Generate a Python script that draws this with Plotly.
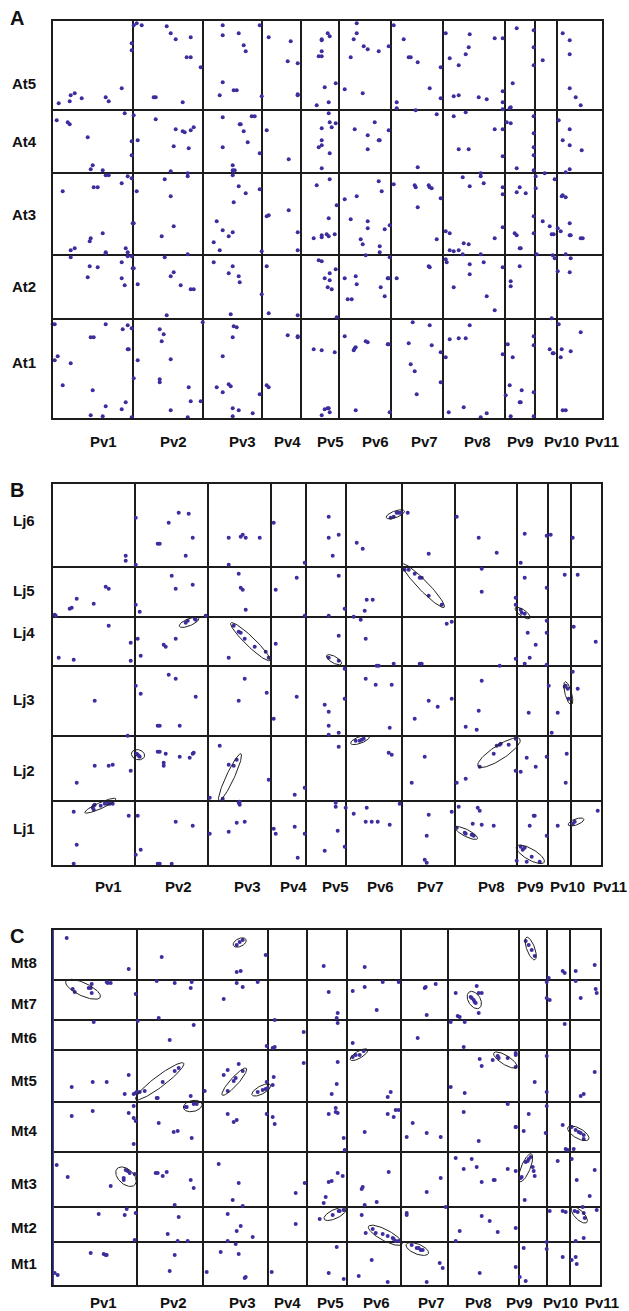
import numpy as np
import plotly.graph_objects as go

W, H = 629, 1311

# ---------------- data: chromosome lengths (arbitrary genome units) ----------------
PV = ["Pv1", "Pv2", "Pv3", "Pv4", "Pv5", "Pv6", "Pv7", "Pv8", "Pv9", "Pv10", "Pv11"]
A_rows = ["At1", "At2", "At3", "At4", "At5"]
B_rows = ["Lj1", "Lj2", "Lj3", "Lj4", "Lj5", "Lj6"]
C_rows = ["Mt1", "Mt2", "Mt3", "Mt4", "Mt5", "Mt6", "Mt7", "Mt8"]

A_pv_len = [80, 70, 59, 39, 38.3, 51.7, 52, 62, 30.3, 21.7, 45]
A_row_len = [99.3, 64, 81.7, 63.3, 89]
B_pv_len = [82.3, 72.7, 63, 35.3, 40.3, 55.4, 53, 62.6, 31, 22.4, 30.3]
B_row_len = [63.4, 65.3, 69.7, 49.3, 49.7, 83]
C_pv_len = [84.6, 65.4, 65.3, 38.7, 40, 54.3, 47, 70.7, 28.6, 22.4, 30.6]
C_row_len = [42.7, 35, 55, 50.6, 51.7, 30, 40, 50]

# ---------------- data: homologous gene pairs (x = Pv position, y = other genome) ----------------
A_pts = [
 (6,315),(17,317),(18,323),(22,325),(29,320),(53,321),(56,317),(69,330),(79,375),(79,368),(81,393),(84,395),(89,393),(114,392),(118,385),(123,379),(138,381),(134,361),(138,361),(148,351),(101,321),(103,321),(130,316),(170,393),(170,383),(186,385),(191,373),(193,367),(207,393),(170,336),(181,328),(184,328),(167,323),(209,322),(216,381),(238,377),(235,357),(245,355),(245,324),(245,323),(269,379),(269,378),(275,385),(277,382),(269,367),(266,362),(269,362),(272,331),(264,313),(276,316),
 (4,298),(15,296),(17,294),(35,281),(40,253),(38,249),(50,248),(72,305),(79,277),(79,263),(81,303),(103,299),(123,289),(130,287),(132,286),(138,288),(141,291),(85,278),(121,272),(136,270),(118,247),(170,301),(199,302),(202,302),(187,294),(188,294),(191,287),(195,276),(170,271),(207,265),(180,253),(180,248),(182,248),(181,247),(214,288),(236,259),(276,305),(277,296),(269,290),(269,278),(269,273),(266,271),(277,265),(269,250),
 (10,227),(41,231),(45,231),(53,243),(56,243),(69,235),(75,242),(79,240),(84,227),(112,239),(118,222),(135,242),(135,245),(180,243),(186,232),(193,225),(207,229),(181,216),(264,233),(277,239),
 (80,195),(81,195),(50,185),(38,180),(37,177),(18,168),(22,170),(53,166),(53,165),(73,170),(75,166),(75,162),(79,162),(121,192),(109,182),(135,164),(164,197),(170,188),(176,182),(180,186),(161,176),(167,168),(214,202),(216,203),(236,208),(245,186),(245,168),(209,167),(276,200),(261,180),(269,183),(269,181),(274,184),(276,182),
 (18,161),(37,152),(45,151),(35,141),(69,156),(69,140),(72,133),(80,150),(81,150),(85,134),(112,161),(121,146),(118,142),(128,133),(138,129),(141,129),(114,103),(161,156),(180,152),(176,145),(186,142),(187,136),(178,104),(214,152),(209,124),(216,105),(245,103),(266,158),(269,157),(272,140),(277,145),(277,138),(275,131),
 (0,94),(2,94),(53,94),(75,93),(70,89),(79,90),(38,81),(41,81),(75,69),(76,69),(5,62),(2,58),(18,55),(10,33),(40,28),(53,12),(69,9),(73,16),(38,3),(50,2),(79,1),(107,89),(111,84),(109,77),(85,58),(118,59),(81,40),(107,39),(107,36),(136,31),(138,17),(148,17),(118,8),(135,1),(150,96),(181,92),(184,91),(180,81),(170,62),(164,31),(176,34),(178,32),(170,26),(207,24),(180,10),(186,8),(200,5),(180,2),(214,33),(216,31),(235,83),(245,82),(245,81),(261,69),(269,68),(272,9),(275,10),(276,10),(269,3),(277,6),
 (283,335),(304,395),(304,385),(301,379),(311,372),(315,369),(326,367),(298,361),(292,329),(310,325),(336,372),(341,393),(351,379),(356,361),(358,361),(365,356),(388,351),(377,330),(388,320),(344,316),(344,310),(363,308),(393,385),(417,384),(442,380),(450,380),(416,371),(413,364),(397,360),(406,353),(450,327),(406,323),(401,322),(426,321),(434,319),(450,316),(450,309),(457,310),(458,311),(464,390),(481,388),(481,371),(481,353),(460,335),(490,358),(510,385),(517,378),(517,364),(517,330),(523,321),(528,313),
 (283,295),(279,291),(322,296),(302,289),(315,283),(326,278),(327,278),(315,269),(336,288),(365,251),(384,304),(401,302),(413,306),(442,289),(450,289),(406,269),(416,269),(450,262),(454,296),(458,295),(464,250),(481,302),(481,285),(481,271),(481,263),(481,248),(483,242),(492,245),(502,239),(506,298),(517,289),(510,278),(517,273),(529,268),(517,249),(513,246),
 (284,213),(326,237),(329,227),(304,222),(292,219),(341,234),(362,233),(363,231),(376,233),(377,231),(379,230),(388,220),(365,211),(410,241),(428,245),(428,242),(431,235),(417,232),(450,231),(450,224),(464,226),(467,231),(473,225),(483,230),(510,223),(509,222),(513,221),
 (282,184),(298,199),(315,197),(315,190),(332,189),(308,179),(310,174),(327,172),(327,166),(313,163),(337,193),(384,179),(393,187),(397,185),(442,180),(450,191),(411,175),(416,174),(397,168),(401,167),(406,168),(410,164),(428,164),(462,185),(464,183),(467,170),(468,170),(481,202),(481,185),(484,164),(490,197),(497,192),(499,184),(501,184),(505,190),(508,187),(517,195),(517,183),(518,183),(528,180),(530,180),(513,164),(500,163),
 (279,129),(283,149),(284,101),(292,140),(303,142),(304,134),(295,119),(299,119),(328,131),(332,122),(335,140),(336,140),(337,161),(344,140),(376,152),(377,151),(393,159),(394,156),(417,154),(431,156),(417,144),(401,131),(434,122),(442,108),(450,151),(458,137),(458,132),(467,152),(499,100),(502,160),(505,147),(518,160),(517,146),
 (282,66),(292,82),(301,68),(302,70),(303,71),(313,77),(315,76),(335,74),(336,74),(303,8),(337,6),(360,96),(377,93),(356,75),(379,73),(358,54),(362,47),(364,24),(388,66),(388,36),(393,61),(417,93),(397,79),(406,80),(413,80),(450,64),(396,6),(411,11),(434,5),(428,1),(455,74),(460,61),(457,33),(469,28),(453,23),(467,16),(468,16),(481,82),(481,73),(481,26),(458,2),(481,2),(497,69),(500,65),(501,65),(509,69),(508,61),(518,67),(506,94),(528,86),(510,8),(513,8),
]

B_pts = [
 (73,309),(73,304),(83,347),(83,300),(126,352),(136,351),(116,342),(140,327),(105,321),(107,321),(133,309),(176,327),(188,328),(190,330),(193,327),(207,327),(176,300),(221,342),(252,302),(276,348),(276,327),
 (2,250),(3,249),(17,256),(19,257),(24,266),(41,261),(53,278),(56,276),(83,260),(87,253),(119,289),(123,276),(140,280),(186,291),(188,277),(190,275),(193,255),(153,249),(223,275),(244,287),(252,249),(276,249),
 (56,239),(6,207),(21,205),(78,222),(78,204),(85,226),(88,209),(123,226),(111,220),(113,218),(133,242),(135,244),(143,245),(142,246),(181,239),(186,233),(188,232),(192,226),(202,218),(213,213),(216,207),(176,207),(223,221),(276,207),
 (116,190),(123,186),(192,186),
 (42,164),(75,129),(83,179),(88,171),(143,168),(105,139),(107,139),(127,139),(186,164),(214,172),(221,146),(244,168),(272,160),(276,153),(276,139),(276,130),
 (84,111),(85,110),(86,109),(87,108),(42,99),(56,99),(60,100),(24,82),(78,94),(105,113),(107,113),(113,111),(111,102),(111,99),(127,108),(137,107),(140,111),(141,112),(167,119),(176,100),(181,99),(184,105),(170,66),(157,67),(216,85),(242,70),(252,77),
 (40,57),(41,59),(42,60),(48,59),(52,61),(55,61),(57,61),(60,61),(41,55),(21,53),(24,20),(21,1),(76,49),(85,49),(88,15),(83,10),(105,1),(107,1),(119,1),(123,43),(140,39),(186,62),(187,60),(187,63),(184,42),(192,43),(176,33),(157,31),(221,36),(223,31),(242,38),(252,31),(245,7),(272,14),
 (286,330),(280,309),(304,322),(310,316),(338,347),(341,348),(344,352),(346,352),(348,352),(355,352),(376,311),(404,348),(426,327),(444,312),(472,331),(468,302),(494,329),(498,330),(520,327),
 (286,289),(292,256),(314,265),(320,265),(312,254),(301,248),(308,245),(352,295),(356,295),(362,291),(367,287),(369,287),(376,269),(389,260),(429,296),(429,273),(472,287),(494,277),(512,290),(525,290),(463,267),(463,260),(468,255),(469,252),(472,251),
 (286,229),(286,204),(313,226),(324,199),(326,199),(341,201),(367,201),(369,201),(394,241),(399,243),(447,199),(463,206),(472,201),(475,232),(483,220),(477,207),(494,244),(494,232),(494,200),(521,238),(543,223),
 (292,196),(313,186),(520,193),
 (292,166),(286,132),(323,180),(339,180),(429,184),(337,137),(376,164),(385,158),(362,146),(399,166),(426,154),(413,138),(424,135),(476,152),(496,179),(505,152),(499,132),(512,178),(513,179),(515,176),(516,166),(525,176),
 (303,124),(307,124),(309,125),(311,126),(286,118),(336,112),(339,110),(372,108),(359,82),(404,82),(413,86),(427,98),(441,111),(444,119),(447,120),(448,121),(456,120),(463,126),(474,107),(483,98),(463,94),(468,93),(494,108),(514,111),(513,82),
 (283,62),(283,58),(293,57),(292,18),(285,34),(301,51),(314,57),(313,43),(319,43),(325,43),(337,40),(347,61),(376,50),(374,29),(372,5),(374,2),(399,53),(406,58),(425,57),(427,54),(429,40),(441,39),(404,37),(412,32),(413,31),(419,30),(421,29),(420,41),(468,18),(470,15),(472,17),(479,8),(474,3),(487,3),(464,4),(481,49),(482,49),(477,39),(494,29),(505,39),(520,41),(522,43),(545,54),
]

C_pts = [
 (76,316),(109,328),(184,313),(188,314),(213,330),(271,319),(14,347),
 (20,296),(22,293),(36,297),(38,297),(39,292),(39,301),(54,303),(55,302),(58,302),(83,291),(104,304),(122,302),(139,303),(138,297),(171,286),(184,302),(190,298),(205,303),(276,293),
 (41,263),(85,264),(106,267),(117,245),(141,260),(214,239),(220,237),(222,238),(222,265),(251,253),
 (19,198),(40,203),(54,203),(76,210),(72,191),(81,191),(83,192),(84,193),(87,193),(92,194),(104,187),(105,187),(110,203),(122,214),(126,217),(138,189),(152,194),(175,215),(171,210),(181,204),(183,207),(190,214),(186,221),(175,194),(205,193),(210,195),(213,196),(215,197),(220,200),(221,208),(214,203),(251,222),
 (134,178),(133,178),(141,181),(144,181),(19,169),(40,174),(76,172),(81,179),(81,167),(83,164),(106,162),(175,171),(181,163),(184,165),(214,171),(220,168),(222,161),(276,171),
 (312,318),(510,314),(512,312),(523,314),(542,320),(496,307),
 (300,294),(312,298),(330,303),(346,303),(372,297),(373,298),(383,301),(374,270),(324,275),(285,272),(284,267),(403,292),(424,299),(426,292),(429,292),(418,288),(419,287),(421,285),(422,283),(423,282),(426,272),(405,269),(407,268),(494,303),(494,287),(497,285),(523,304),(528,287),(543,296),(544,292),
 (285,262),(300,242),(365,247),(398,263),(412,263),(411,238),(512,261),
 (300,228),(303,230),(307,230),(311,234),(285,223),(284,201),(279,191),(338,193),(335,188),(398,198),(412,192),(427,226),(429,219),(440,225),(445,229),(446,227),(455,227),(463,232),(463,230),(463,218),(482,203),(494,229),(494,193),(542,213),(528,189),(531,191),
 (283,177),(283,173),(285,172),(335,171),(341,168),(343,175),(346,175),(360,162),(411,173),(455,181),(463,158),(476,171),(494,179),(510,160),
 (81,141),(121,153),(125,154),(139,147),
 (4,120),(15,108),(58,99),(73,115),(75,114),(77,112),(71,107),(71,105),(82,111),(103,112),(105,112),(110,109),(114,113),(138,105),(141,97),(122,80),(166,121),(186,102),(180,85),(190,79),(243,92),(252,102),(276,103),(273,88),(271,82),
 (46,71),(72,70),(74,76),(83,72),(82,45),(126,68),(115,51),(125,44),(135,44),(175,71),(188,59),(184,54),(200,48),(175,44),(183,41),(243,61),(267,66),
 (38,32),(51,31),(53,30),(54,30),(122,30),(117,14),(168,33),(186,31),(154,13),(193,8),(192,7),(219,13),(2,12),(5,10),(276,12),
 (291,147),(292,135),(312,153),(354,148),(374,152),(388,148),(426,144),(463,158),(471,154),(493,152),(519,158),(523,155),(526,153),(528,152),(531,150),(531,146),(513,136),(515,135),(521,136),
 (285,112),(279,104),(290,109),(336,113),(310,98),(309,96),(312,80),(324,83),(374,93),(388,107),(403,127),(419,126),(424,118),(411,116),(429,103),(441,105),(442,105),(455,116),(463,114),(472,85),(468,107),(469,108),(473,123),(475,124),(476,126),(478,128),(480,118),(481,114),(482,109),(505,124),(519,126),(524,105),(542,115),(537,89),(530,78),
 (287,74),(291,75),(286,74),(280,70),(309,70),(313,52),(320,56),(323,52),(330,51),(335,49),(340,47),(341,46),(343,44),(346,44),(354,72),(354,70),(393,78),(429,69),(437,64),(445,53),(407,54),(403,44),(463,57),(497,74),(510,74),(513,73),(522,74),(525,73),(531,72),(532,67),(544,75),(531,47),(523,44),(494,43),(494,36),
 (284,38),(291,6),(319,25),(306,9),(335,3),(359,40),(364,37),(366,37),(368,35),(370,35),(387,22),(390,17),(374,3),(427,12),(463,18),(467,8),(473,4),(471,37),(510,28),(519,25),(523,28),(524,21),
 (184,340),(187,343),(190,345),(473,344),(476,340),(479,335),(482,329),
]

# syntenic blocks (center x, center y, semi-major, semi-minor, angle deg)
B_blocks = [(136.3,242.4,10.5,3.5,22),(197.6,223,27,4.7,-44),(281.3,205,8.5,3.3,-30),(342.6,350.4,9.7,3.3,20),
            (370.6,279,30,5,-46),(470,251.7,9,3.3,-35),(85.3,110,6.7,5,-15),(177.3,87.4,26,4,65),(47.6,59,17,3,24),
            (515.6,171.4,12,3.3,105),(307.3,124.7,10,3.3,20),(446.3,112,25,7,33),(413.6,31.7,12.5,3.5,-27),
            (477.6,10.4,16,5.5,-30),(523.3,42.7,8.3,3,20)]
C_blocks = [(30.3,295.7,19,6.5,-25),(107,203.7,30,5.5,37),(181.6,203.3,18,4,48),(208.6,195,10.5,4,28),
            (140,179,9.5,5.5,12),(421.6,285,9.5,6,-58),(306.3,230.3,10,3.5,30),(452.6,225,13.5,4.5,-32),
            (73.3,108.3,12,7.5,-42),(525.6,151.7,12,5,-30),(473,117.3,15,4.5,68),(282.3,71,12,4.5,25),
            (332.6,49.7,19,5.5,-28),(526.6,70,10.5,4.5,-45),(364.6,36,12,5,-22),
            (187,342.5,7,4,25),(478,336.5,12,4,-70)]

# Pv label left edges (in Pv units)
A_lab_x = [35, 105, 174, 219, 262, 307, 356, 409, 452, 489, 530]
B_lab_x = [40, 110, 179, 225, 267, 312, 362, 423, 462, 495, 538]
C_lab_x = [35, 105, 174, 219, 262, 308, 363, 410, 451, 488, 530]

# ---------------- layout geometry (pixels) ----------------
panels = [
    dict(name="A", left=52.7, top=21, bottom=418.3, pv=A_pv_len, rows=A_rows, rl=A_row_len, pts=A_pts,
         blocks=[], labx=A_lab_x, laby=441, lety=18, rowlab=[362, 287, 214, 142, 83]),
    dict(name="B", left=52.7, top=484.3, bottom=864.7, pv=B_pv_len, rows=B_rows, rl=B_row_len, pts=B_pts,
         blocks=B_blocks, labx=B_lab_x, laby=886, lety=490, rowlab=[828, 770, 700, 632, 590, 521]),
    dict(name="C", left=52.7, top=930, bottom=1285, pv=C_pv_len, rows=C_rows, rl=C_row_len, pts=C_pts,
         blocks=C_blocks, labx=C_lab_x, laby=1302, lety=936, rowlab=[1263, 1227, 1183, 1130, 1080, 1037, 1003, 962]),
]

DOT = "#3b2e9e"
LINE = "#1c1c1c"
FONT = dict(family="Liberation Sans, Arial, sans-serif", size=15, color="#111111", weight="bold")

fig = go.Figure()
annotations = []
shapes = []

def py2paper(py):
    return 1 - py / H

for i, p in enumerate(panels):
    sfx = "" if i == 0 else str(i + 1)
    xa, ya = "x" + sfx, "y" + sfx
    xtot = float(np.sum(p["pv"]))
    ytot = float(np.sum(p["rl"]))
    xb = np.cumsum(p["pv"])[:-1]
    yb = np.cumsum(p["rl"])[:-1]
    xd = [p["left"] / W, (p["left"] + xtot) / W]
    yd = [py2paper(p["bottom"]), py2paper(p["top"])]
    axis_common = dict(showgrid=True, gridcolor=LINE, gridwidth=2, zeroline=False, showticklabels=False,
                       ticks="", showline=True, linecolor=LINE, linewidth=2, mirror=True)
    fig.update_layout(**{
        "xaxis" + sfx: dict(domain=xd, range=[0, xtot], tickvals=list(xb), anchor=ya, **axis_common),
        "yaxis" + sfx: dict(domain=yd, range=[0, ytot], tickvals=list(yb), anchor=xa, **axis_common),
    })
    xs = [q[0] for q in p["pts"]]
    ys = [q[1] for q in p["pts"]]
    fig.add_trace(go.Scatter(x=xs, y=ys, mode="markers", xaxis=xa, yaxis=ya, cliponaxis=False,
                             marker=dict(size=4, color=DOT, line=dict(width=0)), showlegend=False,
                             hoverinfo="skip"))
    t = np.linspace(0, 2 * np.pi, 80)
    for (cx, cy, a, b, ang) in p["blocks"]:
        th = np.deg2rad(ang)
        ex = cx + a * np.cos(t) * np.cos(th) - b * np.sin(t) * np.sin(th)
        ey = cy + a * np.cos(t) * np.sin(th) + b * np.sin(t) * np.cos(th)
        fig.add_trace(go.Scatter(x=ex, y=ey, mode="lines", xaxis=xa, yaxis=ya, cliponaxis=False,
                                 line=dict(color="#222222", width=1), showlegend=False, hoverinfo="skip"))
    for lab, lx in zip(PV, p["labx"]):
        annotations.append(dict(text=lab, x=lx, xref=xa, y=py2paper(p["laby"]), yref="paper",
                                xanchor="left", yanchor="middle", showarrow=False, font=FONT))
    for lab, ry in zip(p["rows"], p["rowlab"]):
        annotations.append(dict(text=lab, x=24 / W, xref="paper", y=py2paper(ry), yref="paper",
                                xanchor="center", yanchor="middle", showarrow=False, font=FONT))
    annotations.append(dict(text=p["name"], x=17 / W, xref="paper", y=py2paper(p["lety"]), yref="paper",
                            xanchor="center", yanchor="middle", showarrow=False,
                            font=dict(family=FONT["family"], size=20, color="#111111", weight="bold")))
    if p["name"] == "C":
        shapes.append(dict(type="line", xref=xa, yref=ya, x0=0, x1=0, y0=0, y1=ytot,
                           line=dict(color="#3a3aa0", width=2.5)))

fig.update_layout(width=W, height=H, margin=dict(l=0, r=0, t=0, b=0), paper_bgcolor="white",
                  plot_bgcolor="white", annotations=annotations, shapes=shapes, showlegend=False)
fig.write_html("out.html", config={"displayModeBar": False},
               post_script="document.body.style.margin='0px';document.body.style.padding='0px';")
